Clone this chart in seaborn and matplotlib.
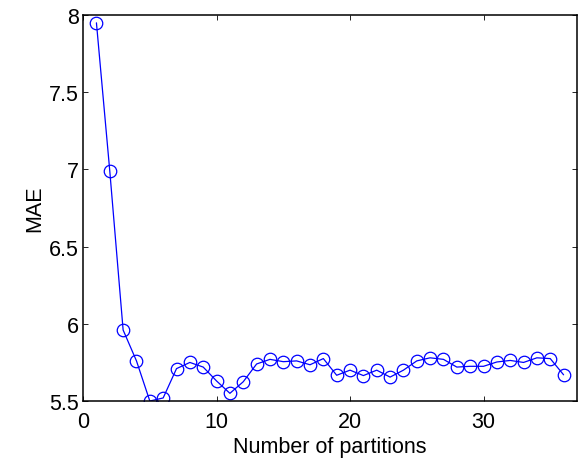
import matplotlib
matplotlib.use("Agg")
import matplotlib.pyplot as plt
import seaborn as sns
import pandas as pd

partitions = list(range(1, 37))
mae = [7.95, 6.99, 5.96, 5.76, 5.50, 5.52, 5.71, 5.75, 5.72, 5.63,
       5.55, 5.625, 5.74, 5.77, 5.755, 5.76, 5.735, 5.775, 5.667, 5.70,
       5.665, 5.70, 5.655, 5.70, 5.76, 5.78, 5.77, 5.72, 5.725, 5.725,
       5.753, 5.763, 5.75, 5.78, 5.775, 5.67]
xticks = [0, 10, 20, 30]
yticks = [5.5, 6, 6.5, 7, 7.5, 8]
ytick_labels = ["5.5", "6", "6.5", "7", "7.5", "8"]

sns.set_theme(style="white")
plt.rcParams['font.family'] = ['Liberation Sans', 'DejaVu Sans']

df = pd.DataFrame({"x": partitions, "y": mae})

fig = plt.figure(figsize=(5.81, 4.60), dpi=100)
ax = fig.add_axes([0.143, 0.126, 0.850, 0.839])
sns.lineplot(data=df, x="x", y="y", ax=ax, color="#0000ff", linewidth=0.9,
             marker="o", markersize=9, markerfacecolor="none",
             markeredgecolor="#0000ff", markeredgewidth=0.9)

ax.set_xlim(0, 37)
ax.set_ylim(5.5, 8)
ax.set_xticks(xticks)
ax.set_yticks(yticks)
ax.set_yticklabels(ytick_labels)
ax.set_xlabel("Number of partitions", fontsize=15.5, color="black", labelpad=3)
ax.set_ylabel("MAE", fontsize=15.5, color="black", labelpad=3)
ax.tick_params(direction="in", length=3.5, width=0.6, labelsize=15.5,
               top=True, right=True, bottom=True, left=True, colors="black")
ax.tick_params(axis="x", pad=7)
ax.tick_params(axis="y", pad=3)
for s in ax.spines.values():
    s.set_color("black")
    s.set_linewidth(1.1)

fig.savefig("out.png", dpi=100)
